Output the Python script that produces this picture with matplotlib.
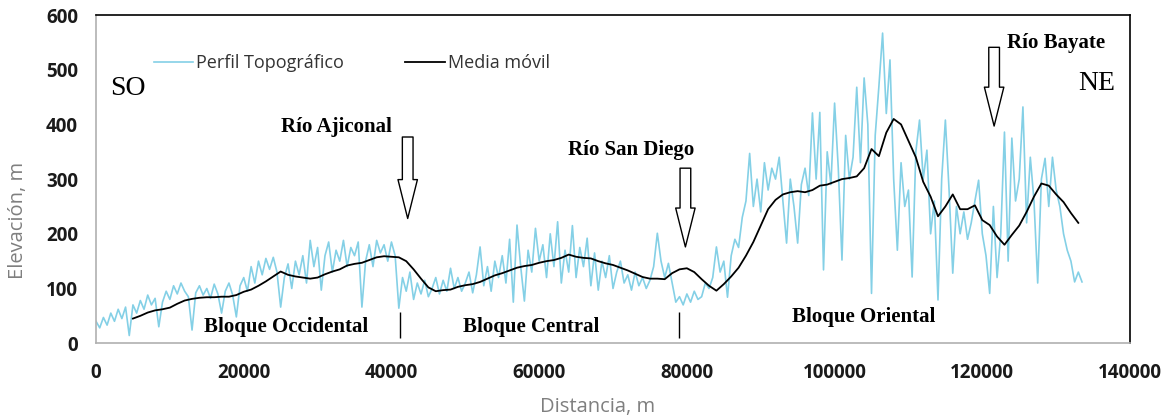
"""
Perfil topográfico SO-NE con media móvil.
"""
import numpy as np
import matplotlib.pyplot as plt

# ---- datos ----
paso_perfil = 500  # m entre muestras del perfil
elevacion_perfil = [
    40, 28, 47, 33, 55, 40, 62, 45, 66, 14,
    70, 55, 78, 62, 88, 70, 82, 30, 75, 95,
    80, 105, 90, 110, 95, 85, 24, 92, 105, 88,
    100, 82, 108, 90, 55, 95, 110, 88, 48, 105,
    120, 95, 140, 110, 150, 125, 155, 135, 157, 130,
    66, 120, 145, 100, 150, 125, 160, 110, 188, 140,
    175, 97, 160, 185, 130, 170, 150, 188, 140, 175,
    160, 185, 66, 150, 180, 140, 188, 165, 180, 150,
    185, 160, 64, 120, 95, 130, 80, 110, 90, 115,
    85, 100, 120, 90, 115, 95, 137, 100, 120, 95,
    110, 130, 92, 125, 176, 105, 140, 95, 150, 120,
    160, 110, 190, 75, 216, 140, 77, 170, 130, 210,
    150, 180, 120, 200, 140, 222, 110, 170, 130, 215,
    120, 175, 140, 192, 105, 165, 97, 150, 120, 160,
    100, 130, 150, 110, 125, 97, 130, 105, 120, 100,
    115, 140, 201, 150, 120, 146, 110, 75, 85, 70,
    90, 75, 95, 80, 85, 110, 100, 120, 176, 130,
    150, 84, 160, 190, 175, 230, 260, 347, 250, 300,
    240, 330, 280, 320, 300, 340, 260, 183, 300, 250,
    183, 290, 320, 270, 421, 300, 422, 134, 350, 290,
    439, 320, 152, 380, 300, 340, 468, 330, 485, 400,
    91, 380, 470, 567, 420, 518, 300, 170, 330, 250,
    280, 121, 350, 408, 300, 353, 200, 260, 79, 300,
    408, 280, 128, 250, 200, 240, 190, 220, 260, 298,
    200, 160, 91, 250, 120, 200, 386, 150, 375, 260,
    300, 432, 220, 340, 260, 110, 300, 338, 250, 340,
    280, 250, 200, 170, 150, 112, 130, 112,
]

inicio_media = 5000
paso_media = 1000
media_movil = [
    45, 50, 56, 60, 62, 65, 72, 78, 81, 83,
    84, 84, 85, 85, 88, 94, 98, 105, 113, 122,
    131, 125, 122, 120, 118, 120, 126, 131, 135, 142,
    145, 147, 152, 157, 159, 158, 157, 150, 135, 118,
    102, 95, 97, 98, 103, 106, 108, 112, 118, 124,
    128, 133, 138, 141, 143, 147, 150, 152, 156, 162,
    158, 156, 155, 150, 146, 143, 138, 133, 127, 121,
    118, 118, 117, 128, 135, 137, 130, 117, 105, 96,
    108, 122, 138, 160, 185, 215, 245, 262, 272, 276,
    278, 276, 280, 288, 290, 295, 300, 302, 305, 320,
    355, 342, 385, 410, 400, 370, 340, 295, 268, 232,
    250, 272, 245, 245, 252, 225, 216, 195, 180, 198,
    215, 240, 268, 292, 288, 272, 258, 238, 220,
]

rios = ['Río Ajiconal', 'Río San Diego', 'Río Bayate']
rios_x = [42200, 79800, 121600]
bloques = ['Bloque Occidental', 'Bloque Central', 'Bloque Oriental']
bloques_x = [25800, 58900, 104000]
limites_bloques = [41200, 79000]

distancia = np.arange(len(elevacion_perfil)) * paso_perfil
distancia_media = inicio_media + np.arange(len(media_movil)) * paso_media

# ---- figura ----
fig = plt.figure(figsize=(11.71, 4.18), dpi=100)
ax = fig.add_axes([0.082, 0.179, 0.883, 0.785])

ax.plot(distancia, elevacion_perfil, color='#84d0e6', linewidth=1.2,
        label='Perfil Topográfico')
ax.plot(distancia_media, media_movil, color='black', linewidth=1.3,
        label='Media móvil')

ax.set_xlim(0, 140000)
ax.set_ylim(0, 600)
ax.set_xticks(np.arange(0, 140001, 20000))
ax.set_yticks(np.arange(0, 601, 100))
ax.tick_params(length=0, labelsize=13.5)
ax.tick_params(axis='y', pad=13)
ax.tick_params(axis='x', pad=14)
for lab in ax.get_xticklabels() + ax.get_yticklabels():
    lab.set_fontfamily('Open Sans')
    lab.set_fontweight('bold')
    lab.set_color('#1a1a1a')

ax.set_xlabel('Distancia, m', fontsize=14.5, color='#7f7f7f', family='Open Sans')
ax.set_ylabel('Elevación, m', fontsize=14.5, color='#7f7f7f', family='Open Sans')
ax.xaxis.set_label_coords(0.485, -0.165)
ax.yaxis.set_label_coords(-0.066, 0.375)

for side in ['left', 'bottom']:
    ax.spines[side].set_color('#b0b0b0')
    ax.spines[side].set_linewidth(1.2)
for side in ['top', 'right']:
    ax.spines[side].set_color('black')
    ax.spines[side].set_linewidth(1.2)

leg = ax.legend(loc='upper left', bbox_to_anchor=(0.04, 0.93), ncol=2,
                frameon=False, handlelength=2.2, handletextpad=0.15,
                columnspacing=3.4, prop={'family': 'Open Sans', 'size': 13})
for t in leg.get_texts():
    t.set_color('#333333')

# orientación
ax.text(1900, 466, 'SO', fontsize=20, family='Liberation Serif', va='center')
ax.text(133000, 475, 'NE', fontsize=20, family='Liberation Serif',
        va='center', ha='left')

# ríos y flechas
rotulos = [(25100, 395, 'left'), (72500, 353, 'center'), (123300, 549, 'left')]
flechas = [(377, 228), (320, 176), (541, 397)]
for nombre, xr, (xt, yt, ha), (y0, y1) in zip(rios, rios_x, rotulos, flechas):
    ax.text(xt, yt, nombre, fontsize=15, fontweight='bold',
            family='Liberation Serif', ha=ha, va='center')
    ax.annotate('', xy=(xr, y1), xytext=(xr, y0),
                arrowprops=dict(arrowstyle='simple,head_width=1.0,head_length=2.0,tail_width=0.55',
                                fc='white', ec='black', lw=1.0,
                                mutation_scale=14, shrinkA=0, shrinkB=0))

# bloques
for nombre, xb in zip(bloques, bloques_x):
    y_txt = 48 if nombre == 'Bloque Oriental' else 30
    ax.text(xb, y_txt, nombre, fontsize=15, fontweight='bold',
            family='Liberation Serif', ha='center', va='center')
ax.vlines(limites_bloques, 9, 57, color='black', linewidth=1.0)

plt.savefig('out.png', dpi=100)
